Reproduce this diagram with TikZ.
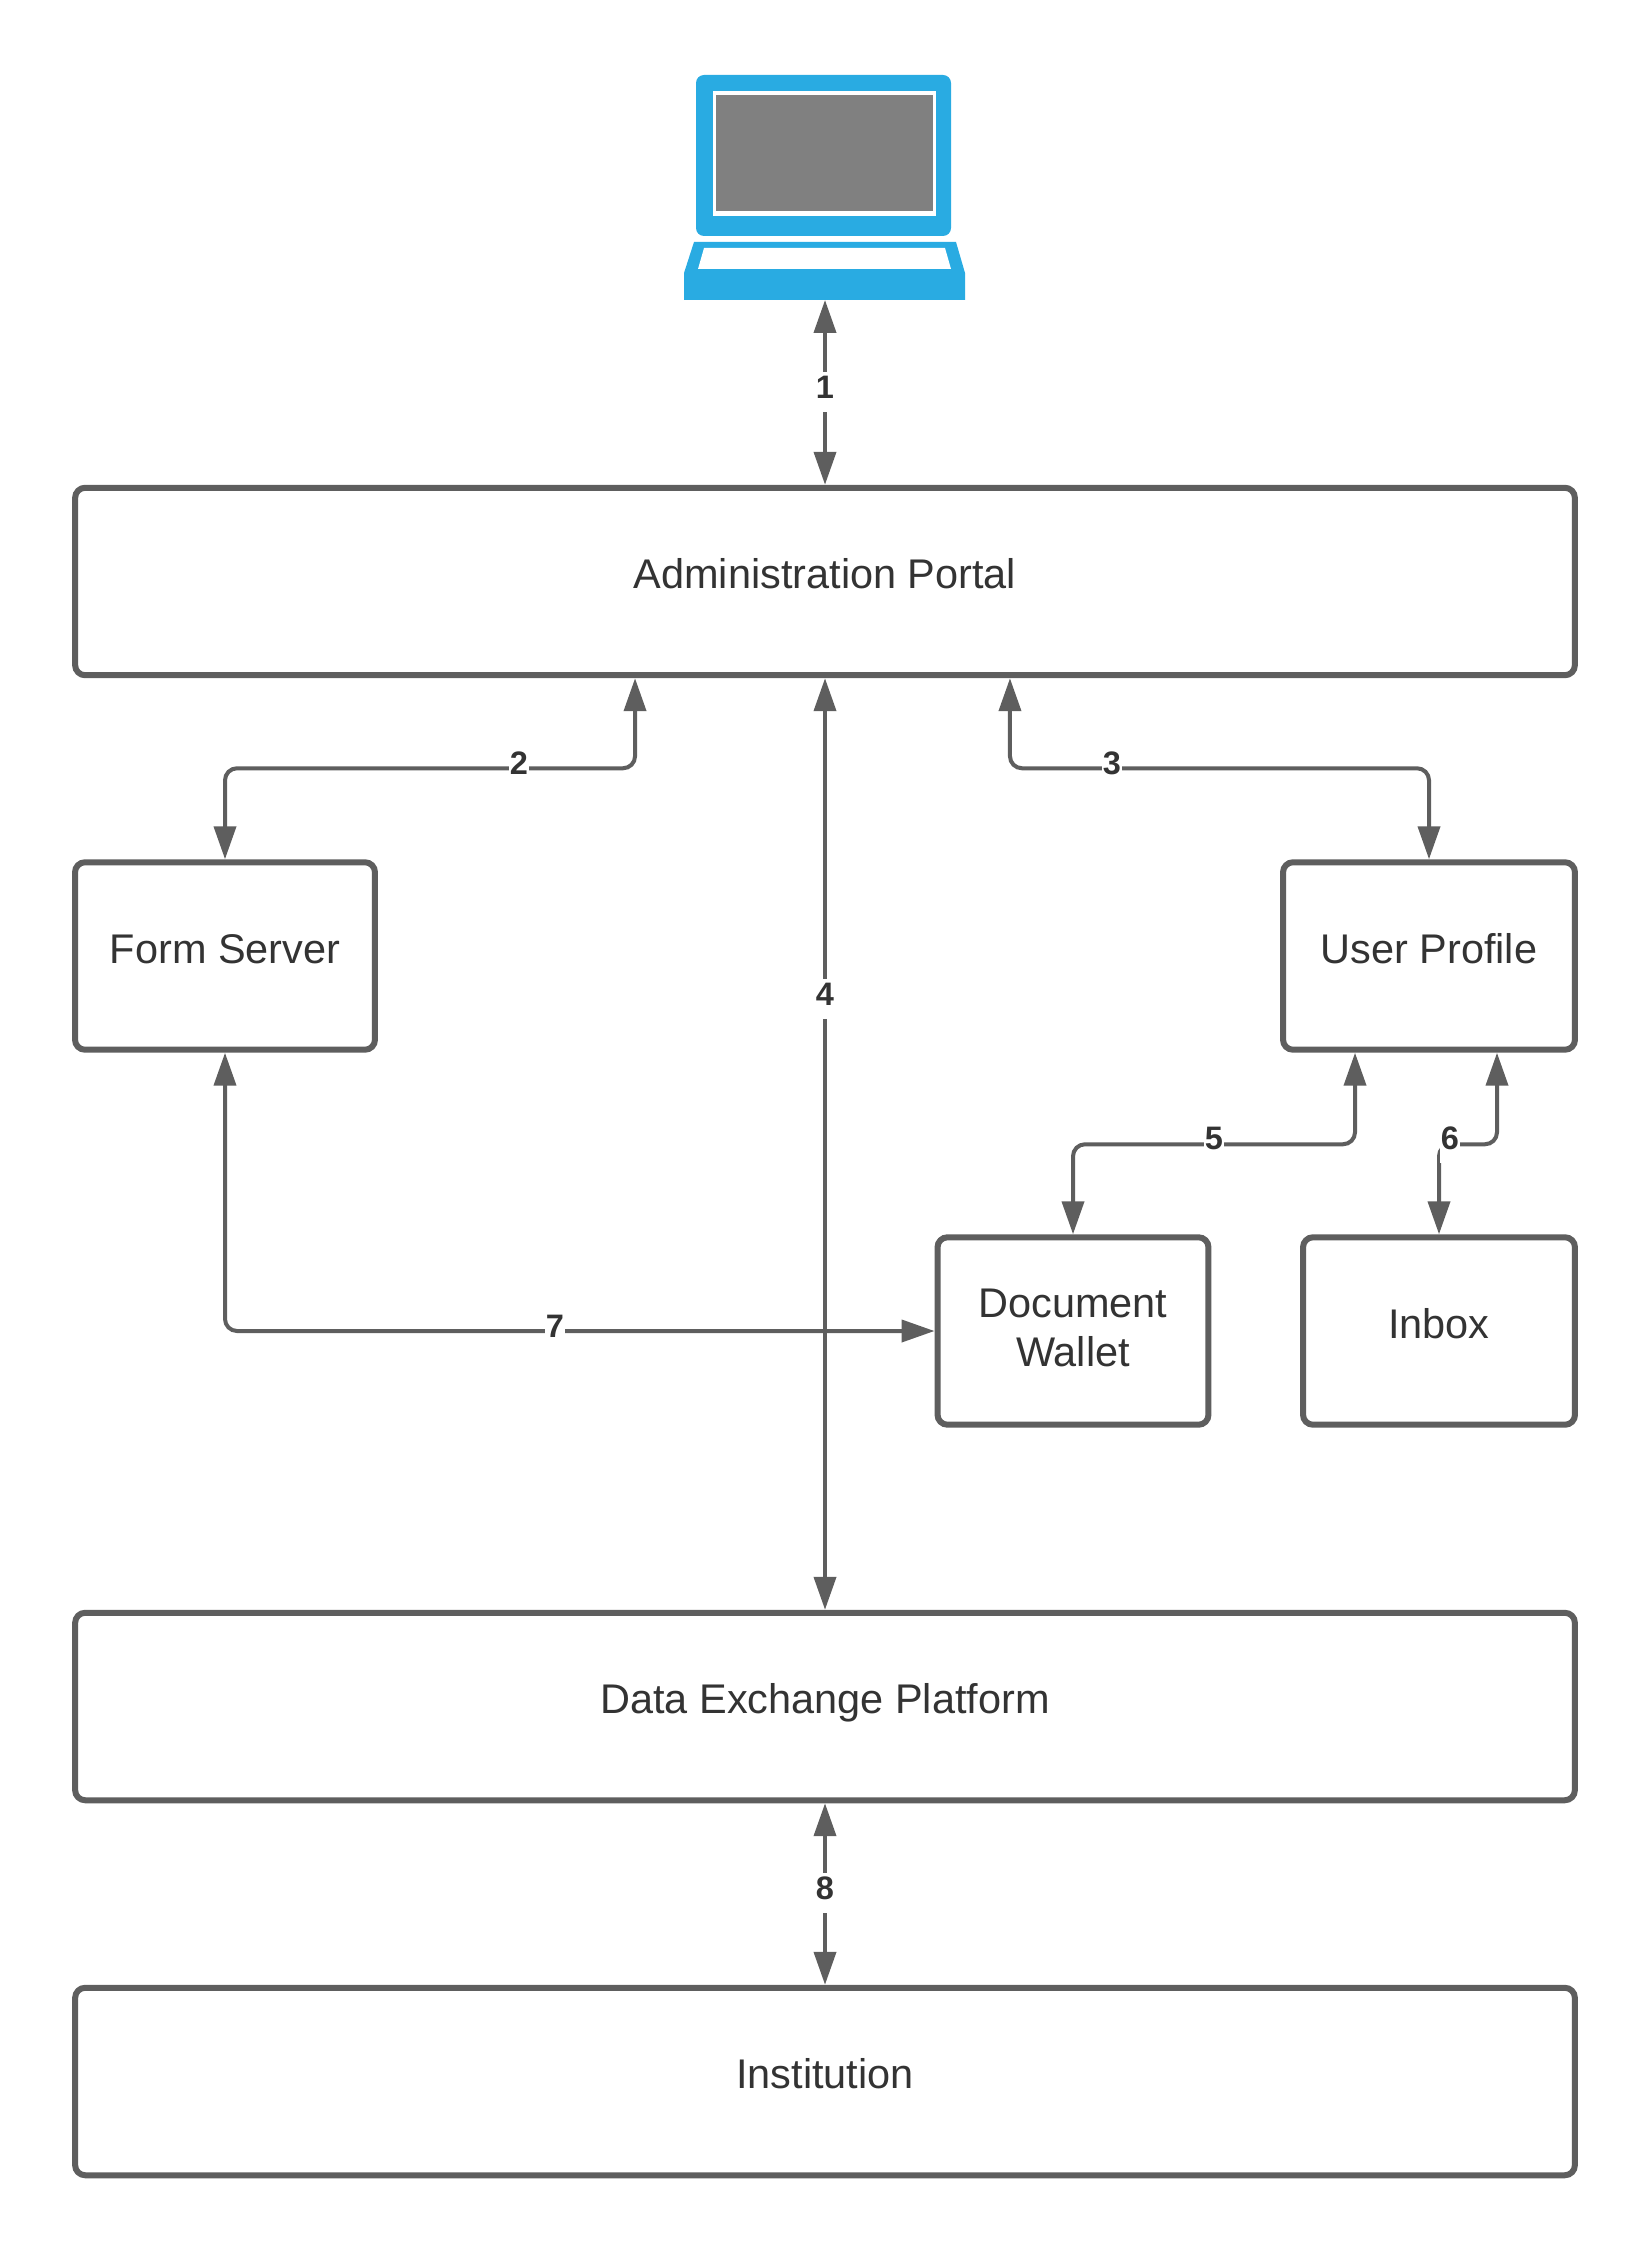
\documentclass[tikz,border=0pt]{standalone}
\usepackage{fontspec}
\setmainfont{Liberation Sans}
\usetikzlibrary{arrows.meta,positioning}
\definecolor{linegray}{HTML}{5E5E5E}
\definecolor{textgray}{HTML}{333333}
\definecolor{laptopblue}{HTML}{29ABE2}
\tikzset{>={Triangle[length=0.66cm,width=0.44cm]}}
\tikzset{
    block/.style={draw=linegray, line width=0.12cm, rounded corners=0.2cm, fill=white, inner sep=0pt, text=textgray, font=\fontsize{23.6}{28.2}\selectfont, text height=18pt, text depth=10pt, align=center},
    link/.style={<->, draw=linegray, line width=0.08cm, rounded corners=0.24cm},
    numlabel/.style={fill=white, inner xsep=0.5pt, inner ysep=0pt, text=textgray, font=\fontsize{18.5}{22}\selectfont\bfseries, text height=15.2pt, text depth=7.6pt}
}

\begin{document}
\begin{tikzpicture}[x=0.02cm, y=-0.02cm]
    \useasboundingbox (0,0) rectangle (1650,2250);

    % laptop
    \fill[laptopblue, rounded corners=0.16cm] (696,75) rectangle (951,236);
    \fill[white] (713,91) rectangle (936,216);
    \fill[gray] (716,95) rectangle (933,211);
    \fill[laptopblue] (694,242) -- (956,242) -- (965,273) -- (965,300) -- (684,300) -- (684,273) -- cycle;
    \fill[white] (704,248) -- (945,248) -- (951,269) -- (698,269) -- cycle;
    \node[minimum width=5.62cm, minimum height=4.5cm, inner sep=0pt, outer sep=0pt] (laptop) at (825,187.5) {};

    \node[block, minimum width=30cm, minimum height=3.75cm] (portal) at (825,581.5) {Administration Portal};
    \node[block, minimum width=6cm, minimum height=3.75cm] (formserver) at (225,956) {Form Server};
    \node[block, minimum width=5.84cm, minimum height=3.75cm] (profile) at (1429,956) {User Profile};
    \node[block, minimum width=5.42cm, minimum height=3.75cm, text height=50.5pt, text depth=10pt] (wallet) at (1073,1331) {Document\\Wallet};
    \node[block, minimum width=5.44cm, minimum height=3.75cm] (inbox) at (1439,1331) {Inbox};
    \node[block, minimum width=30cm, minimum height=3.75cm] (exchange) at (825,1706.5) {Data Exchange Platform};
    \node[block, minimum width=30cm, minimum height=3.75cm] (institution) at (825,2081.5) {Institution};

    \draw[link] (laptop.south) -- (portal.north);
    \draw[link] (formserver.north) -- ++(0,-91) -| ([xshift=-3.8cm]portal.south);
    \draw[link] (profile.north) -- ++(0,-91) -| ([xshift=3.7cm]portal.south);
    \draw[link] (portal.south) -- (exchange.north);
    \draw[link] (wallet.north) -- ++(0,-90) -| ([xshift=-1.48cm]profile.south);
    \draw[link] (inbox.north) -- ++(0,-90) -| ([xshift=1.36cm]profile.south);
    \draw[link] (formserver.south) |- (wallet.west);
    \draw[link] (exchange.south) -- (institution.north);

    \node[numlabel] (lblone) at (825,392) {1};
    \node[numlabel] (lbltwo) at (519,768) {2};
    \node[numlabel] (lblthree) at (1112,768) {3};
    \node[numlabel] (lblfour) at (825,999) {4};
    \node[numlabel] (lblfive) at (1214,1143) {5};
    \node[numlabel] (lblsix) at (1450,1143) {6};
    \node[numlabel] (lblseven) at (555,1331) {7};
    \node[numlabel] (lbleight) at (825,1893) {8};
\end{tikzpicture}
\end{document}
